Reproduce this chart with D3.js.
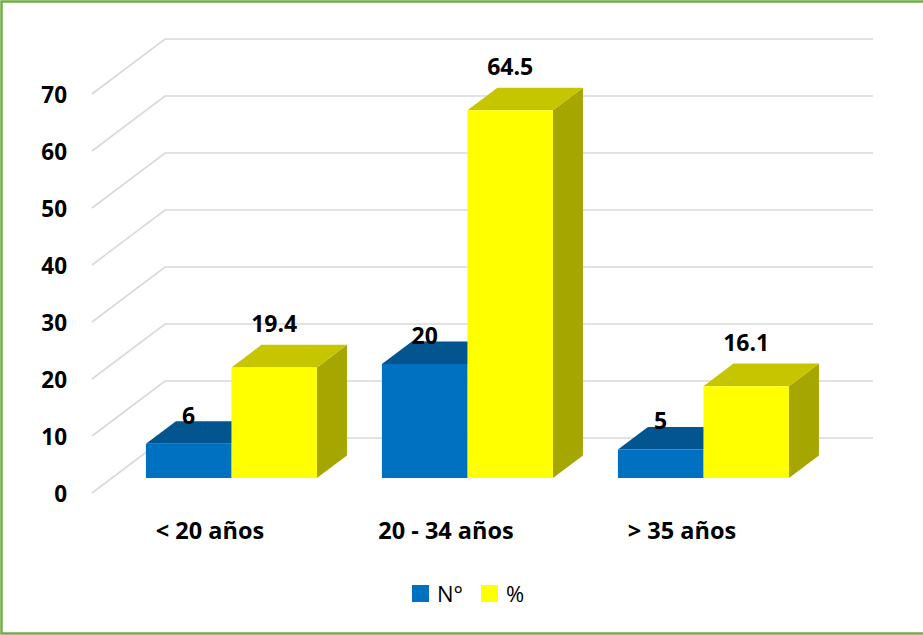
<!DOCTYPE html>
<html>
<head>
<meta charset="utf-8">
<script src="https://cdn.jsdelivr.net/npm/d3@7"></script>
<style>
  body { margin: 0; background: #fff; }
  svg { display: block; }
</style>
</head>
<body>
<div id="chart"></div>
<script>
// chart data
var categories = ["< 20 años", "20 - 34 años", "> 35 años"];
var seriesNames = ["N°", "%"];
var valuesN = [6, 20, 5];
var valuesPct = [19.4, 64.5, 16.1];
var yTicks = [0, 10, 20, 30, 40, 50, 60, 70];

var svgWidth = 923;
var svgHeight = 635;

// 3D projection: depth goes up and to the right
var origin = { x: 92 };
var depthX = 73, depthY = 55;
var barDepth0 = 0.273, barDepth1 = 0.684;
var wallWidth = 708;

var colors = {
  "N°": { front: "#0070c0", top: "#02558f", side: "#004f85" },
  "%": { front: "#ffff00", top: "#c6c600", side: "#a6a600" }
};
var labelLift = { "N°": 20, "%": 35 };

var svg = d3.select("#chart")
  .append("svg")
  .attr("width", svgWidth)
  .attr("height", svgHeight);

svg.append("rect")
  .attr("x", 1.5)
  .attr("y", 1.5)
  .attr("width", 940)
  .attr("height", 632)
  .attr("fill", "none")
  .attr("stroke", "#70ad47")
  .attr("stroke-width", 2.5);

var yScale = d3.scaleLinear()
  .domain([0, 70])
  .range([493, 94]);

var x0 = d3.scaleBand()
  .domain(categories)
  .range([0, wallWidth]);

var x1 = d3.scaleBand()
  .domain(seriesNames)
  .range([1.5, x0.bandwidth() + 1.5])
  .paddingOuter(0.38);

function proj(xf, v, d) {
  return [origin.x + xf + d * depthX, yScale(v) - d * depthY];
}

// gridlines: side wall diagonal + back wall
var grid = svg.append("g");
yTicks.forEach(function(t) {
  var a = proj(0, t, 0), b = proj(0, t, 1), c = proj(wallWidth, t, 1);
  grid.append("polyline")
    .attr("points", [a, b, c].map(p => p.join(",")).join(" "))
    .attr("fill", "none")
    .attr("stroke", "#d9d9d9")
    .attr("stroke-width", 1.6);
});

// y axis labels
svg.append("g").selectAll("text")
  .data(yTicks)
  .enter().append("text")
  .attr("x", 67)
  .attr("y", d => yScale(d) + 1)
  .attr("dy", "0.36em")
  .attr("text-anchor", "end")
  .attr("font-family", "'Open Sans', sans-serif")
  .attr("font-weight", "bold")
  .attr("font-size", "22.5px")
  .attr("fill", "#000")
  .text(d => d);

// bars
var barData = [];
categories.forEach(function(c, i) {
  barData.push({ cat: c, s: "N°", v: valuesN[i] });
  barData.push({ cat: c, s: "%", v: valuesPct[i] });
});

var bars = svg.append("g").selectAll("g")
  .data(barData)
  .enter().append("g");

function poly(pts) { return pts.map(p => p.join(",")).join(" "); }

bars.each(function(d) {
  var g = d3.select(this);
  var xl = x0(d.cat) + x1(d.s);
  var xr = xl + x1.bandwidth();
  var front = [proj(xl, 0, barDepth0), proj(xr, 0, barDepth0), proj(xr, d.v, barDepth0), proj(xl, d.v, barDepth0)];
  var top = [proj(xl, d.v, barDepth0), proj(xr, d.v, barDepth0), proj(xr, d.v, barDepth1), proj(xl, d.v, barDepth1)];
  var side = [proj(xr, 0, barDepth0), proj(xr, 0, barDepth1), proj(xr, d.v, barDepth1), proj(xr, d.v, barDepth0)];
  g.append("polygon").attr("points", poly(side)).attr("fill", colors[d.s].side);
  g.append("polygon").attr("points", poly(top)).attr("fill", colors[d.s].top);
  g.append("polygon").attr("points", poly(front)).attr("fill", colors[d.s].front);
});

// value labels
svg.append("g").selectAll("text")
  .data(barData)
  .enter().append("text")
  .attr("x", d => proj(x0(d.cat) + x1(d.s) + x1.bandwidth() / 2, d.v, barDepth0)[0])
  .attr("y", d => proj(0, d.v, barDepth0)[1] - labelLift[d.s])
  .attr("text-anchor", "middle")
  .attr("font-family", "'Open Sans', sans-serif")
  .attr("font-weight", "bold")
  .attr("font-size", "23px")
  .attr("fill", "#000")
  .text(d => d.v);

// category labels
svg.append("g").selectAll("text")
  .data(categories)
  .enter().append("text")
  .attr("x", d => origin.x + x0(d) + x0.bandwidth() / 2)
  .attr("y", 539)
  .attr("text-anchor", "middle")
  .attr("font-family", "'Open Sans', sans-serif")
  .attr("font-weight", "bold")
  .attr("font-size", "23.5px")
  .attr("fill", "#000")
  .text(d => d);

// legend
var legendX = [412, 481];
var legend = svg.append("g").selectAll("g")
  .data(seriesNames)
  .enter().append("g")
  .attr("transform", (d, i) => `translate(${legendX[i]}, 585)`);

legend.append("rect")
  .attr("width", 17)
  .attr("height", 17)
  .attr("fill", d => colors[d].front);

legend.append("text")
  .attr("x", 25)
  .attr("y", 17)
  .attr("font-family", "'Open Sans', sans-serif")
  .attr("font-size", "22px")
  .attr("fill", "#000")
  .text(d => d);
</script>
</body>
</html>
